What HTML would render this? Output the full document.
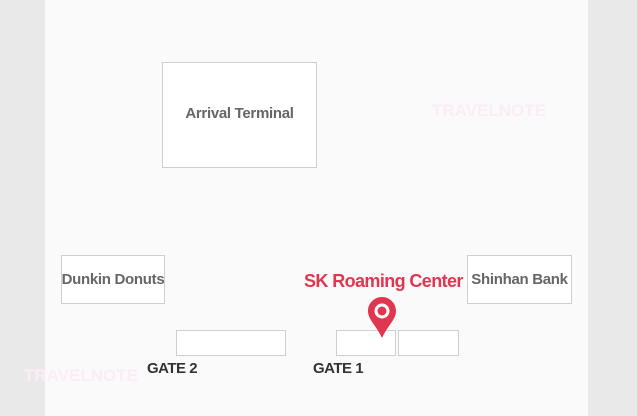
<!DOCTYPE html>
<html><head><meta charset="utf-8"><style>
body{margin:0;width:637px;height:416px;background:#e9e9e9;position:relative;overflow:hidden;font-family:"Liberation Sans",sans-serif;}
.panel{position:absolute;left:45px;top:0;width:543px;height:416px;background:#fafafa;}
.b{position:absolute;background:#fff;border:1px solid #cfcfcf;box-sizing:border-box;display:flex;align-items:center;justify-content:center;color:#666;font-size:15px;font-weight:bold;letter-spacing:-0.3px;white-space:nowrap;}
.t{position:absolute;white-space:nowrap;font-weight:bold;}
</style></head><body>
<div class="panel"></div>
<div class="b" style="left:162px;top:62px;width:155px;height:106px;padding-bottom:3px;">Arrival Terminal</div>
<div class="b" style="left:61px;top:255px;width:104px;height:49px;">Dunkin Donuts</div>
<div class="b" style="left:467px;top:255px;width:105px;height:49px;">Shinhan Bank</div>
<div class="b" style="left:176px;top:330px;width:110px;height:26px;"></div>
<div class="b" style="left:336px;top:330px;width:60px;height:26px;"></div>
<div class="b" style="left:398px;top:330px;width:61px;height:26px;"></div>
<div class="t" style="left:432px;top:101px;font-size:17px;color:#fcecf6;">TRAVELNOTE</div>
<div class="t" style="left:24px;top:366px;font-size:17px;color:#fcecf6;">TRAVELNOTE</div>
<div class="t" style="left:147px;top:360px;font-size:15px;color:#333;letter-spacing:-0.5px;">GATE 2</div>
<div class="t" style="left:313px;top:360px;font-size:15px;color:#333;letter-spacing:-0.5px;">GATE 1</div>
<div class="t" style="left:304px;top:271px;font-size:18px;color:#e0364f;letter-spacing:-0.6px;">SK Roaming Center</div>
<svg style="position:absolute;left:367px;top:296px" width="30" height="44" viewBox="0 0 30 44">
<path d="M15 1 C7 1 1 7.5 1 15 C1 23.5 9 29 15 42 C21 29 29 23.5 29 15 C29 7.5 23 1 15 1Z" fill="#e0364f"/>
<circle cx="15" cy="15" r="7.5" fill="#fff"/><circle cx="15" cy="15" r="4.5" fill="#e0364f"/>
</svg>
</body></html>
